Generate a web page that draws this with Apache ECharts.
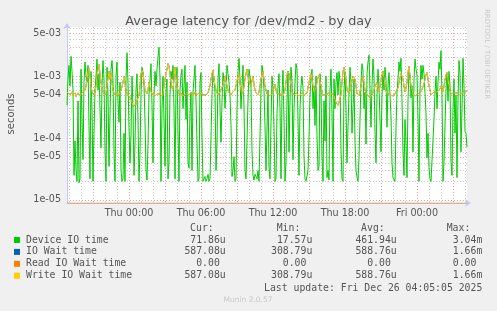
<!DOCTYPE html>
<html><head><meta charset="utf-8">
<script src="https://cdn.jsdelivr.net/npm/echarts@6/dist/echarts.min.js"></script>
<style>html,body{margin:0;padding:0;background:#F0F0F0;}#c{width:497px;height:311px;}</style>
</head><body><div id="c"></div>
<script>
// ---- data (latencies in microseconds, one sample every 5 minutes from Wed 18:50 to Fri 04:10) ----
const titleText = 'Average latency for /dev/md2 - by day';
const tickLabels = ['Thu 00:00', 'Thu 06:00', 'Thu 12:00', 'Thu 18:00', 'Fri 00:00'];
const yLabelValues = [10, 50, 100, 500, 1000, 5000];
const yMinorValues = [20, 30, 40, 60, 70, 80, 90, 200, 300, 400, 600, 700, 800, 900, 2000, 3000, 4000, 6000];
const deviceIo = [
 340,900,1500,700,2100,1200,600,25,90,30,20,400,19,22,1300,200,45,800,1700,1000,
 800,1500,160,22,1200,300,20,120,600,1000,1900,600,1100,300,70,700,1800,900,60,20,
 1400,500,35,250,1300,1800,900,60,20,1000,1700,400,180,800,30,20,22,120,20,900,
 2400,800,150,40,110,1000,300,25,80,600,1100,200,20,60,500,1400,1150,700,190,30,
 21,80,500,900,1600,350,40,500,1200,700,1300,2000,2950,900,20,300,1000,200,35,600,
 900,22,40,500,1200,900,1500,300,22,700,1400,120,20,600,1050,1300,300,700,1500,200,
 800,40,33,250,550,30,560,900,1500,400,86,20,22,800,1150,100,20,22,24,20,
 22,26,20,22,21,500,1150,900,550,30,86,900,1600,300,86,400,1150,800,305,600,
 1500,1100,800,500,160,24,30,50,20,22,300,1200,1950,900,300,700,1500,300,30,22,
 22,400,1300,1000,700,60,25,21,26,24,22,30,20,100,600,1500,1150,600,160,30,
 140,600,33,22,180,1000,650,150,20,22,250,700,1100,300,22,500,1250,200,20,40,
 400,1200,60,400,1400,800,45,300,800,1600,1300,200,25,300,700,1000,650,50,22,20,
 20,30,100,500,900,1300,300,700,160,1000,110,30,35,1100,550,50,20,400,90,1000,
 23,30,21,600,1300,250,20,900,300,800,1150,500,1200,800,65,22,20,600,1150,300,
 40,150,550,1400,800,120,300,900,86,30,23,20,48,200,800,1600,1250,300,550,80,
 1100,1700,2200,600,150,700,1900,1000,130,40,500,1300,650,200,60,500,1200,600,1400,900,
 150,700,1150,500,220,40,23,22,20,150,550,900,1700,1200,1950,400,60,25,200,80,
 23,400,1300,1000,450,700,60,900,1900,1300,1050,200,20,600,1500,900,1500,1100,550,250,
 48,120,33,22,20,20,20,200,550,1000,300,800,1700,1300,2600,500,20,40,160,600,
 1100,400,1200,700,40,25,300,900,120,500,23,400,1800,1100,60,300,1950,700,130,120,
 72
];
const ioWait = [
 560,530,540,500,520,560,500,520,540,470,480,540,520,480,500,540,560,520,600,700,
 900,1200,1350,1000,700,560,520,500,560,700,1000,1300,1550,1100,800,620,560,520,500,540,
 700,950,1200,900,1100,800,600,540,520,480,540,520,500,540,600,680,800,1000,750,600,
 520,500,480,460,420,380,330,320,310,350,400,450,500,700,1100,1250,1150,800,600,560,
 520,600,800,650,560,520,500,540,480,500,520,560,540,520,500,480,520,700,900,1100,
 1300,1600,1450,1100,800,650,600,900,1400,1000,700,580,520,540,500,520,480,460,500,520,
 540,520,500,480,520,540,480,500,560,540,500,520,540,500,520,540,500,520,480,500,
 520,540,560,700,900,1100,1250,900,700,600,540,500,520,560,600,650,700,850,1000,850,
 700,600,540,520,500,540,560,580,600,700,850,1000,1100,800,600,560,520,700,900,1100,
 1300,1000,800,750,700,850,1000,750,600,540,520,500,560,700,900,1100,1200,900,700,600,
 520,540,500,480,480,520,560,650,750,600,520,500,500,520,540,520,480,540,600,800,
 1050,1200,1100,900,700,560,520,500,500,540,540,520,480,500,500,540,520,500,480,520,
 540,650,800,950,1100,900,700,560,520,650,800,950,1050,850,700,560,500,520,520,500,
 480,520,540,520,500,540,520,480,420,380,360,340,380,440,500,800,1200,1400,1300,900,
 600,560,520,600,700,850,1000,950,900,700,520,500,480,560,700,850,1000,800,600,540,
 500,480,470,460,480,500,520,600,700,750,800,650,560,700,900,1050,1200,950,700,600,
 520,540,560,520,500,480,480,500,520,540,500,650,800,950,1100,1000,900,700,560,650,
 800,1150,1450,1000,700,600,520,500,480,500,500,520,520,540,560,580,600,750,900,1050,
 1150,900,700,600,500,520,520,560,600,580,560,540,560,620,700,640,560,700,900,1050,
 1150,900,700,600,520,500,500,540,560,550,540,520,520,500,500,530,560,550,540,560,
 587
];
const readIo = new Array(ioWait.length).fill(0);
const writeIo = ioWait.slice();

const legendNames = ['Device IO time', 'IO Wait time', 'Read IO Wait time', 'Write IO Wait time'];
const legendColors = ['#00CC00', '#0066B3', '#FF8000', '#FFCC00'];
const colHeaders = ['Cur:', 'Min:', 'Avg:', 'Max:'];
const curVals = ['71.86u', '587.08u', '0.00 ', '587.08u'];
const minVals = ['17.57u', '308.79u', '0.00 ', '308.79u'];
const avgVals = ['461.94u', '588.76u', '0.00 ', '588.76u'];
const maxVals = ['3.04m', '1.66m', '0.00 ', '1.66m'];
const lastUpdate = 'Last update: Fri Dec 26 04:05:05 2025';
const footer = 'Munin 2.0.57';
const sideText = 'RRDTOOL / TOBI OETIKER';

// categories: time stamps every 5 min
const days = ['Wed', 'Thu', 'Fri'];
function pad(n) { return (n < 10 ? '0' : '') + n; }
const categories = [];
for (let i = 0; i < deviceIo.length; i++) {
  const m = 18 * 60 + 50 + i * 5;
  const d = Math.floor(m / 1440), mm = m % 1440;
  categories.push(days[d] + ' ' + pad(Math.floor(mm / 60)) + ':' + pad(mm % 60));
}
function hourOf(v) { return parseInt(v.slice(4, 6), 10); }
function isHour(v) { return v.slice(7) === '00'; }

function fmtSec(us) {
  const s = us * 1e-6;
  const e = Math.floor(Math.log10(s) + 1e-9);
  const m = Math.round(s / Math.pow(10, e));
  const sign = e < 0 ? '-' : '+';
  return m + 'e' + sign + pad(Math.abs(e));
}

const FONT = 'DejaVu Sans';
const MONO = 'DejaVu Sans Mono';
const chart = echarts.init(document.getElementById('c'), null, { renderer: 'canvas' });

const graphics = [];
graphics.push({ type: 'text', x: 11, y: 114, rotation: Math.PI / 2,
  style: { text: 'seconds', font: '10px "' + FONT + '"', fill: '#555', align: 'center', verticalAlign: 'middle' } });
graphics.push({ type: 'text', x: 487, y: 54, rotation: -Math.PI / 2,
  style: { text: sideText, font: '7px "' + FONT + '"', fill: '#C8C8C8', align: 'center', verticalAlign: 'middle' } });
const colEdges = [225.7, 312.3, 396.7, 482.3];
const cols = [curVals, minVals, avgVals, maxVals];
const monoFont = '9.8px "' + MONO + '"';
colHeaders.forEach((h, j) => {
  graphics.push({ type: 'text', x: colEdges[j] - 12, y: 228,
    style: { text: h, font: monoFont, fill: '#555', align: 'right', verticalAlign: 'middle' } });
});
legendNames.forEach((n, i) => {
  const y = 240 + i * 11.9;
  graphics.push({ type: 'rect', shape: { x: 14, y: y - 3, width: 6, height: 6 }, style: { fill: legendColors[i] } });
  graphics.push({ type: 'text', x: 26, y: y,
    style: { text: n, font: monoFont, fill: '#555', align: 'left', verticalAlign: 'middle' } });
  cols.forEach((c, j) => {
    graphics.push({ type: 'text', x: colEdges[j], y: y,
      style: { text: c[i], font: monoFont, fill: '#555', align: 'right', verticalAlign: 'middle' } });
  });
});
graphics.push({ type: 'text', x: 482.3, y: 288,
  style: { text: lastUpdate, font: monoFont, fill: '#555', align: 'right', verticalAlign: 'middle' } });
graphics.push({ type: 'text', x: 248, y: 300,
  style: { text: footer, font: '7.5px "' + FONT + '"', fill: '#C8C8C8', align: 'center', verticalAlign: 'middle' } });

const Y_MIN = 8.94, Y_MAX = 6266;
const option = {
  backgroundColor: '#F0F0F0',
  animation: false,
  title: { text: titleText, left: 'center', top: 10,
    textStyle: { fontFamily: FONT, fontSize: 12.8, fontWeight: 'normal', color: '#555' } },
  grid: { left: 67, right: 30, top: 27, bottom: 108, show: true, backgroundColor: '#FFFFFF', borderWidth: 0 },
  xAxis: [
    { type: 'category', data: categories, boundaryGap: false,
      axisLine: { show: true, lineStyle: { color: '#C8C8F8' }, symbol: ['none', 'arrow'], symbolSize: [6, 6], symbolOffset: [0, 4] },
      axisTick: { show: false },
      axisLabel: { interval: (i, v) => tickLabels.indexOf(v) >= 0, fontFamily: FONT, fontSize: 9.6, color: '#555', margin: 5 },
      splitLine: { show: true, interval: (i, v) => isHour(v) && hourOf(v) % 3 !== 0,
        lineStyle: { color: 'rgba(170,170,170,0.6)', type: [1, 2], width: 1 } } },
    { type: 'category', data: categories, boundaryGap: false,
      axisLine: { show: false }, axisTick: { show: false }, axisLabel: { show: false },
      splitLine: { show: true, interval: (i, v) => isHour(v) && hourOf(v) % 3 === 0,
        lineStyle: { color: 'rgba(225,110,110,0.65)', type: [1, 2], width: 1 } } }
  ],
  yAxis: [
    { type: 'log', logBase: 10, min: Y_MIN, max: Y_MAX,
      axisLine: { show: true, lineStyle: { color: '#C8C8F8' }, symbol: ['none', 'arrow'], symbolSize: [6, 6], symbolOffset: [0, 4] },
      axisTick: { show: false, customValues: yLabelValues },
      axisLabel: { customValues: yLabelValues, formatter: v => fmtSec(v), fontFamily: FONT, fontSize: 9.6, color: '#555', margin: 6, padding: [3, 0, 0, 0] },
      splitLine: { show: true, lineStyle: { color: 'rgba(225,110,110,0.65)', type: [1, 2], width: 1 } } },
    { type: 'log', logBase: 10, min: Y_MIN, max: Y_MAX,
      axisLine: { show: false }, axisLabel: { show: false, customValues: yMinorValues },
      axisTick: { show: false, customValues: yMinorValues },
      splitLine: { show: true, lineStyle: { color: 'rgba(170,170,170,0.6)', type: [1, 2], width: 1 } } },
    { type: 'value', min: 0, max: 1, show: false, splitLine: { show: false } }
  ],
  series: [
    { name: legendNames[0], type: 'line', data: deviceIo, xAxisIndex: 0, yAxisIndex: 0, showSymbol: false, symbol: 'none',
      lineStyle: { color: legendColors[0], width: 1 }, itemStyle: { color: legendColors[0] }, z: 3 },
    { name: legendNames[1], type: 'line', data: ioWait, xAxisIndex: 0, yAxisIndex: 0, showSymbol: false, symbol: 'none',
      lineStyle: { color: legendColors[1], width: 1 }, itemStyle: { color: legendColors[1] }, z: 4 },
    { name: legendNames[2], type: 'line', data: readIo, xAxisIndex: 0, yAxisIndex: 2, showSymbol: false, symbol: 'none', clip: false,
      lineStyle: { color: legendColors[2], width: 1, opacity: 0.6 }, itemStyle: { color: legendColors[2] }, z: 5 },
    { name: legendNames[3], type: 'line', data: writeIo, xAxisIndex: 0, yAxisIndex: 0, showSymbol: false, symbol: 'none',
      lineStyle: { color: legendColors[3], width: 1 }, itemStyle: { color: legendColors[3] }, z: 6 }
  ],
  graphic: graphics
};
chart.setOption(option);
</script></body></html>
